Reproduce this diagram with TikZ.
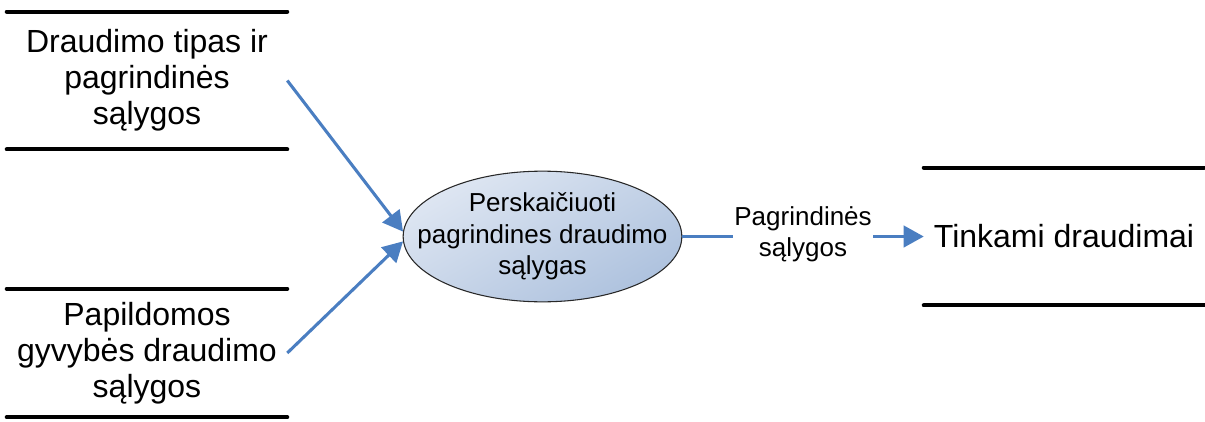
\documentclass[tikz,border=0pt]{standalone}
\usepackage{fontspec}
\setmainfont{Liberation Sans}
\usetikzlibrary{shapes.geometric,arrows.meta}
\definecolor{flowblue}{RGB}{74,126,193}
\definecolor{procedge}{RGB}{40,40,40}
\definecolor{proctop}{RGB}{222,230,242}
\definecolor{procbot}{RGB}{174,194,222}
\tikzset{
  storeline/.style={line width=3pt, line cap=round, black},
  store/.style={minimum width=210pt, minimum height=103pt, inner sep=0pt,
    align=center, font=\fontsize{24}{27}\selectfont,
    append after command={
      (\tikzlastnode.north west) edge[storeline] (\tikzlastnode.north east)
      (\tikzlastnode.south west) edge[storeline] (\tikzlastnode.south east)}},
  process/.style={ellipse, draw=procedge, line width=0.8pt,
    minimum width=209pt, minimum height=98pt, inner xsep=-30pt, inner ysep=0pt,
    align=center,
    top color=proctop, bottom color=procbot, shading angle=30,
    font=\fontsize{19.5}{23.5}\selectfont},
  flow/.style={draw=flowblue, line width=2.3pt,
    -{Triangle[length=15pt,width=16pt]}},
  flowlabel/.style={fill=white, inner sep=1pt, align=center,
    font=\fontsize{19.5}{23}\selectfont}
}
\begin{document}
\begin{tikzpicture}[x=0.75pt, y=-0.75pt]
  \useasboundingbox (0,0) rectangle (1205,421);

  % data stores
  \node[store] (type) at (147,80.5) {Draudimo tipas ir\\pagrindinės\\sąlygos};
  \node[store, minimum height=96pt] (extra) at (147,353) {Papildomos\\gyvybės draudimo\\sąlygos};
  \node[store] (result) at (1064,236.5) {Tinkami draudimai};

  % process
  \node[process] (calc) at (542.5,236.5) {Perskaičiuoti\\pagrindines draudimo\\sąlygas};

  % flows
  \draw[flow] (type.east) -- (calc.178);
  \draw[flow] (extra.east) -- (calc.182);
  \draw[flow] (calc.east) -- node[flowlabel, yshift=1.5pt] {Pagrindinės\\sąlygos} (result.west);
\end{tikzpicture}
\end{document}
